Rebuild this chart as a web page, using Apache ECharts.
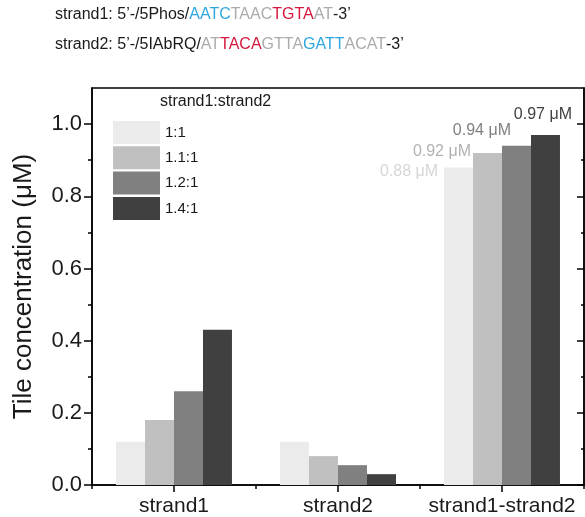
<!DOCTYPE html>
<html>
<head>
<meta charset="utf-8">
<script src="https://cdn.jsdelivr.net/npm/echarts@6/dist/echarts.min.js"></script>
<style>
html,body{margin:0;padding:0;background:#fff;}
#c{width:585px;height:517px;}
</style>
</head>
<body>
<div id="c"></div>
<script>
var categories = ['strand1', 'strand2', 'strand1-strand2'];
var ratioNames = ['1:1', '1.1:1', '1.2:1', '1.4:1'];
var values_1_1 = [0.12, 0.12, 0.88];
var values_1_1_1 = [0.18, 0.08, 0.92];
var values_1_2_1 = [0.26, 0.055, 0.94];
var values_1_4_1 = [0.43, 0.03, 0.97];
var yMajorTicks = [0, 0.2, 0.4, 0.6, 0.8, 1.0];
var yMinorTicks = [0.1, 0.3, 0.5, 0.7, 0.9];
var legendTitle = 'strand1:strand2';
var yAxisTitle = 'Tile concentration (\u03bcM)';
var labelUnit = ' \u03bcM';
var labelIndex = 2;

var seriesValues = [values_1_1, values_1_1_1, values_1_2_1, values_1_4_1];
var barColors = ['#ebebeb', '#c0c0c0', '#808080', '#404040'];
var labelColors = ['#d6d6d6', '#b2b2b2', '#808080', '#404040'];
var labelOffsets = [[-6, 4], [-2, -1], [9, -15], [41, -20]];

var FONT = '"Liberation Sans", Arial, sans-serif';
var chart = echarts.init(document.getElementById('c'), null, {renderer: 'canvas'});

var series = seriesValues.map(function (vals, i) {
  return {
    name: ratioNames[i],
    type: 'bar',
    xAxisIndex: 0,
    yAxisIndex: 0,
    barGap: '0%',
    barCategoryGap: '29.3%',
    itemStyle: {color: barColors[i]},
    label: {
      show: true,
      position: labelOffsets[i],
      align: 'right',
      verticalAlign: 'middle',
      fontFamily: FONT,
      fontSize: 16,
      color: labelColors[i],
      formatter: function (p) {
        return p.dataIndex === labelIndex ? p.value.toFixed(2) + labelUnit : '';
      }
    },
    data: vals
  };
});

var HF = '16px ' + FONT;
var headerRich = {
  k: {font: HF, fill: '#1a1a1a'},
  b: {font: HF, fill: '#2ea7e0'},
  g: {font: HF, fill: '#ababab'},
  r: {font: HF, fill: '#d4173c'}
};

var lineStyleAxis = {color: '#000', width: 1.5};

var option = {
  animation: false,
  backgroundColor: '#fff',
  grid: {left: 92, right: 1, top: 88, bottom: 32, show: true, borderColor: '#000', borderWidth: 1.5, backgroundColor: 'transparent'},
  legend: {
    orient: 'vertical',
    left: 113,
    top: 121,
    padding: 0,
    itemWidth: 47,
    itemHeight: 23,
    itemGap: 2.3,
    icon: 'rect',
    textStyle: {fontFamily: FONT, fontSize: 15, color: '#1a1a1a'},
    data: ratioNames
  },
  graphic: [
    {type: 'text', left: 160, top: 94, style: {text: legendTitle, font: '16px ' + FONT, fill: '#1a1a1a'}},
    {type: 'text', left: 55, top: 7, style: {
      rich: headerRich, font: HF, fill: '#1a1a1a',
      text: '{k|strand1: 5\u2019-/5Phos/}{b|AATC}{g|TAAC}{r|TGTA}{g|AT}{k|-3\u2019}'
    }},
    {type: 'text', left: 55, top: 37, style: {
      rich: headerRich, font: HF, fill: '#1a1a1a',
      text: '{k|strand2: 5\u2019-/5IAbRQ/}{g|AT}{r|TACA}{g|GTTA}{b|GATT}{g|ACAT}{k|-3\u2019}'
    }}
  ],
  xAxis: [
    {
      type: 'category', data: categories, position: 'bottom',
      axisLine: {show: true, lineStyle: lineStyleAxis},
      axisTick: {show: true, length: 4, lineStyle: lineStyleAxis},
      axisLabel: {fontFamily: FONT, fontSize: 21, color: '#1a1a1a', margin: 11, interval: 0, hideOverlap: false},
      splitLine: {show: false}
    },
    {
      type: 'category', data: categories, position: 'bottom',
      axisLine: {show: false},
      axisTick: {show: true, alignWithLabel: true, length: 7, lineStyle: lineStyleAxis},
      axisLabel: {show: false},
      splitLine: {show: false}
    }
  ],
  yAxis: [
    {
      type: 'value', min: 0, max: 1.1, interval: 0.2, position: 'left',
      name: yAxisTitle, nameLocation: 'middle', nameGap: 55,
      nameTextStyle: {fontFamily: FONT, fontSize: 26, color: '#1a1a1a'},
      axisLine: {show: true, lineStyle: lineStyleAxis},
      axisTick: {show: true, length: 8, lineStyle: lineStyleAxis, customValues: yMajorTicks},
      axisLabel: {fontFamily: FONT, fontSize: 22, color: '#1a1a1a', margin: 10, customValues: yMajorTicks,
        formatter: function (v) { return v.toFixed(1); }},
      splitLine: {show: false}
    },
    {
      type: 'value', min: 0, max: 1.1, position: 'left',
      axisLine: {show: false},
      axisTick: {show: true, length: 4, lineStyle: lineStyleAxis, customValues: yMinorTicks},
      axisLabel: {show: false, customValues: yMinorTicks},
      splitLine: {show: false}
    },
    {
      type: 'value', min: 0, max: 1.1, position: 'right',
      axisLine: {show: true, lineStyle: lineStyleAxis},
      axisTick: {show: true, inside: true, length: 7, lineStyle: lineStyleAxis, customValues: yMajorTicks},
      axisLabel: {show: false, customValues: yMajorTicks},
      splitLine: {show: false}
    },
    {
      type: 'value', min: 0, max: 1.1, position: 'right',
      axisLine: {show: false},
      axisTick: {show: true, inside: true, length: 3, lineStyle: lineStyleAxis, customValues: yMinorTicks},
      axisLabel: {show: false, customValues: yMinorTicks},
      splitLine: {show: false}
    }
  ],
  series: series
};
chart.setOption(option);
</script>
</body>
</html>
